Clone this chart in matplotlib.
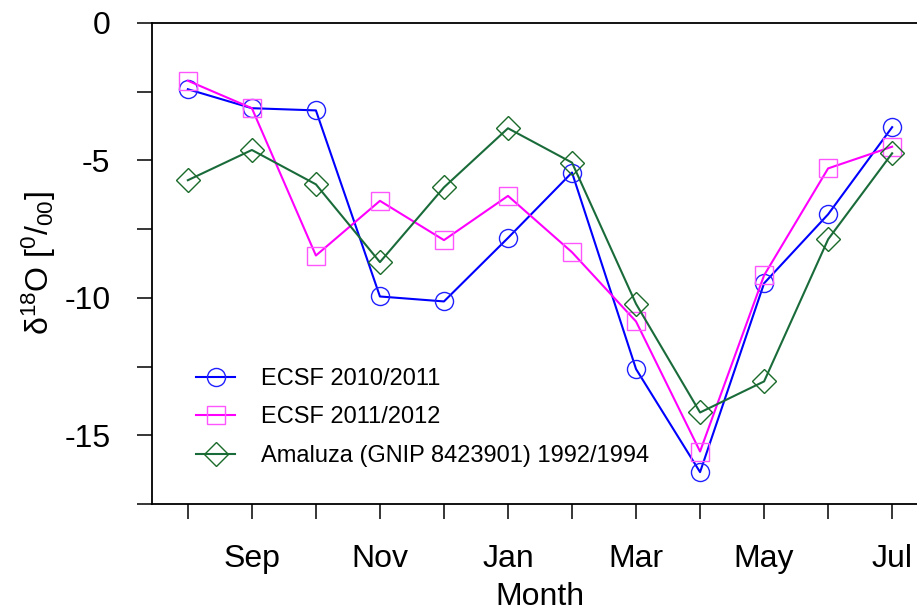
import numpy as np
import matplotlib
matplotlib.use('Agg')
import matplotlib.pyplot as plt

plt.rcParams['font.family'] = ['Liberation Sans', 'DejaVu Sans']
plt.rcParams['mathtext.fontset'] = 'custom'
plt.rcParams['mathtext.rm'] = 'Liberation Sans'
plt.rcParams['mathtext.it'] = 'Liberation Sans'
plt.rcParams['axes.unicode_minus'] = False

months = ['Aug', 'Sep', 'Oct', 'Nov', 'Dec', 'Jan',
          'Feb', 'Mar', 'Apr', 'May', 'Jun', 'Jul']
monthLabels = ['', 'Sep', '', 'Nov', '', 'Jan', '', 'Mar', '', 'May', '', 'Jul']

ecsf2010 = [-2.41, -3.10, -3.18, -9.95, -10.13, -7.82,
            -5.44, -12.59, -16.34, -9.47, -6.96, -3.79]
ecsf2011 = [-2.10, -3.10, -8.46, -6.47, -7.90, -6.29,
            -8.34, -10.86, -15.59, -9.18, -5.29, -4.50]
amaluza = [-5.72, -4.62, -5.87, -8.70, -5.98, -3.83,
           -5.08, -10.22, -14.17, -13.04, -7.87, -4.74]

x = np.arange(len(months))

fig = plt.figure(figsize=(9.17, 6.10), dpi=100)
# right edge sits past the canvas so the right spine is cut off
ax = fig.add_axes([152/917, 1-504/610, 776/917, 481/610])

ax.plot(x, ecsf2010, color='#0000ff', lw=1.5, marker='o', ms=13,
        mfc='none', mec='#2020ff', mew=1.0, label='ECSF 2010/2011')
ax.plot(x, ecsf2011, color='#ff00ff', lw=1.5, marker='s', ms=13.5,
        mfc='none', mec='#ff55ff', mew=1.0, label='ECSF 2011/2012')
ax.plot(x, amaluza, color='#1a6b3a', lw=1.5, marker='D', ms=12,
        mfc='none', mec='#1a6b2a', mew=1.0,
        label='Amaluza (GNIP 8423901) 1992/1994')

ax.set_xlim(-0.56, 11.56)
ax.set_ylim(-17.5, 0)
ax.set_xticks(x)
ax.set_xticklabels(monthLabels)
ax.set_yticks([0, -5, -10, -15])
ax.set_yticks([-2.5, -7.5, -12.5, -17.5], minor=True)

for s in ['left', 'top', 'bottom', 'right']:
    ax.spines[s].set_linewidth(1.3)

ax.tick_params(axis='x', which='both', direction='out', length=11,
               width=1.1, pad=18, labelsize=23)
ax.tick_params(axis='y', which='both', direction='out', length=11,
               width=1.1, pad=19, labelsize=23)

ax.set_xlabel('Month', fontsize=23)
ax.xaxis.set_label_coords(0.5, -0.163)
ax.set_ylabel('\u03b4$^{18}$O [$^{0}$/$_{00}$]', fontsize=23)
ax.yaxis.set_label_coords(-0.121, 0.5)

ax.legend(loc='center left', bbox_to_anchor=(0.045, 0.18), frameon=False,
          fontsize=17, handlelength=1.65, handletextpad=1.1,
          labelspacing=0.7, borderaxespad=0)

fig.savefig('out.png', dpi=100)
